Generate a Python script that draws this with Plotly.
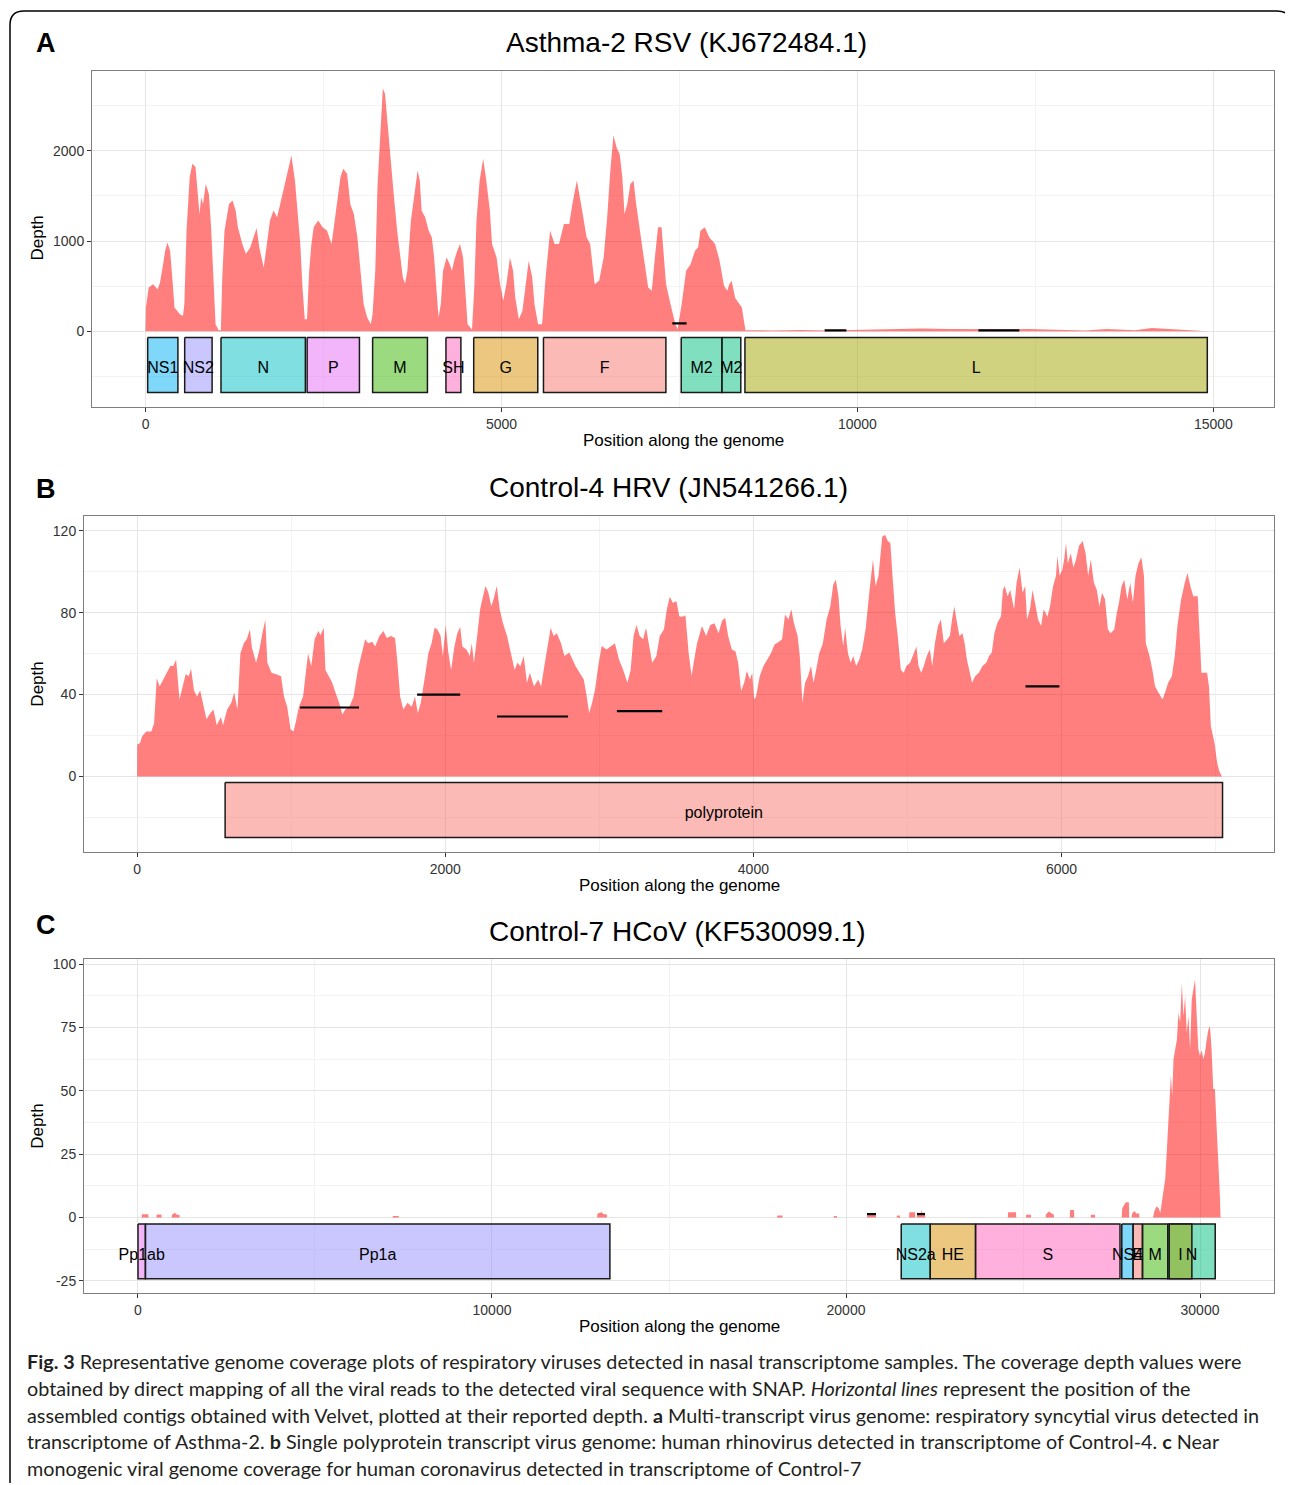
import plotly.graph_objects as go

# page offset of the plot div inside the browser page
OX, OY = 8, 10
W, H = 1293 - OX, 1485 - OY

# ---------------- DATA ----------------
# Panel A: RSV coverage (position, depth)
rsv_cov = [(0,0),(5,263),(44,485),(106,522),(169,467),(200,530),(232,670),(276,893),(307,985),(345,893),(376,596),(407,263),(482,189),(526,170),(545,300),(576,1115),(620,1707),(658,1855),(702,1820),(733,1485),(758,1300),(783,1485),(808,1411),(846,1633),(890,1520),(921,1152),(952,596),(984,78),(1027,11),(1058,11),(1078,596),(1109,1115),(1172,1411),(1222,1448),(1266,1337),(1297,1152),(1360,967),(1410,855),(1472,930),(1516,1040),(1560,1144),(1598,930),(1660,707),(1704,963),(1748,1226),(1798,1337),(1848,1263),(1892,1411),(1936,1560),(1986,1707),(2049,1948),(2099,1670),(2143,1300),(2174,967),(2205,485),(2237,133),(2268,133),(2299,670),(2330,967),(2362,1152),(2425,1226),(2488,1152),(2550,1115),(2613,967),(2676,1337),(2738,1707),(2776,1800),(2832,1744),(2876,1411),(2926,1300),(2976,1040),(3020,670),(3064,300),(3114,152),(3164,78),(3189,189),(3227,670),(3258,1596),(3302,2300),(3333,2689),(3364,2633),(3396,2337),(3440,1855),(3490,1485),(3540,1078),(3584,818),(3615,596),(3646,530),(3678,670),(3728,1226),(3772,1485),(3822,1781),(3853,1670),(3878,1337),(3928,1263),(3978,1115),(4022,1040),(4054,818),(4085,485),(4116,152),(4148,300),(4179,670),(4229,818),(4273,744),(4304,670),(4335,781),(4379,893),(4417,967),(4461,818),(4492,485),(4524,78),(4586,19),(4618,485),(4649,1226),(4693,1670),(4743,1911),(4787,1670),(4837,1337),(4868,967),(4931,818),(4981,522),(5025,337),(5069,522),(5119,818),(5163,670),(5194,374),(5244,133),(5294,226),(5338,522),(5382,781),(5432,596),(5464,300),(5514,78),(5570,78),(5620,596),(5683,1115),(5746,967),(5808,967),(5877,1189),(5952,1189),(5996,1411),(6059,1670),(6109,1448),(6153,1263),(6197,1040),(6246,967),(6309,522),(6372,559),(6435,818),(6485,1263),(6529,1781),(6573,2170),(6623,2022),(6660,1966),(6698,1707),(6729,1300),(6767,1411),(6811,1633),(6855,1670),(6892,1411),(6936,1152),(6999,818),(7061,485),(7111,448),(7155,818),(7199,1152),(7249,1152),(7280,818),(7312,522),(7375,300),(7437,96),(7474,22),(7500,150),(7531,300),(7594,670),(7656,744),(7719,893),(7763,930),(7794,1115),(7857,1152),(7920,1040),(8001,967),(8064,781),(8126,504),(8170,448),(8201,520),(8233,559),(8283,370),(8377,263),(8427,11),(8800,10),(9200,15),(9600,8),(9900,12),(10250,25),(10600,22),(10900,30),(11300,25),(11700,20),(12000,22),(12400,25),(12800,20),(13200,8),(13500,25),(13900,12),(14136,37),(14300,30),(14500,25),(14700,8),(14915,0)]
rsv_genes = ["NS1","NS2","N","P","M","SH","G","F","M2","M2","L"]
rsv_start = [30, 550, 1060, 2270, 3190, 4220, 4610, 5590, 7525, 8097, 8420]
rsv_end   = [455, 935, 2245, 3005, 3960, 4430, 5510, 7310, 8097, 8362, 14915]
rsv_contig_start = [7400, 9540, 11700]
rsv_contig_end   = [7600, 9845, 12275]
rsv_contig_depth = [87, 10, 10]

# Panel B: HRV coverage
hrv_cov = [(0,0),(1,15.6),(19,16.4),(32,19.7),(59,22),(92,22),(110,26),(127,48),(146,44),(167,47),(194,51),(215,54),(234,54),(253,57),(275,37.6),(296,44),(315,50),(334,49),(350,52.6),(369,42),(388,39),(409,42),(428,36),(450,28),(476,31),(495,32.7),(517,25),(544,29),(557,25),(584,32.7),(611,36),(630,41),(651,32.7),(670,60),(692,65),(711,67),(732,71.8),(745,63),(772,55.5),(791,61),(813,70),(832,76.7),(845,55.5),(872,50.7),(907,49.8),(934,49),(953,39),(974,34),(996,23),(1015,22),(1028,26),(1050,34),(1077,39),(1109,60),(1130,54),(1152,67),(1176,71),(1190,69),(1211,72.6),(1222,52),(1244,49),(1265,46),(1284,41.7),(1311,36),(1332,30.3),(1351,32.7),(1378,34),(1405,39),(1432,52),(1454,58.8),(1480,67),(1499,65),(1526,65.8),(1545,63.5),(1572,68.6),(1599,71),(1620,67.6),(1647,68.6),(1674,67.6),(1688,57),(1707,39),(1728,32.7),(1755,36),(1782,34),(1803,39),(1822,31),(1841,36),(1868,49),(1890,60),(1911,65),(1930,72.6),(1949,71.8),(1970,68.6),(1984,58.8),(2003,74),(2019,61),(2038,52),(2059,63.5),(2078,70),(2097,73),(2111,63.5),(2137,62),(2159,58.8),(2172,65),(2186,55.5),(2207,68.6),(2226,81.6),(2245,88),(2261,93),(2280,89.7),(2299,83),(2315,87),(2334,93),(2353,81.6),(2374,75),(2401,68.6),(2428,58.8),(2450,52),(2468,55.5),(2487,53.8),(2509,58.8),(2530,45.8),(2549,50.7),(2576,44),(2603,47.4),(2622,44),(2643,54),(2665,65),(2684,72.6),(2703,68.6),(2724,70),(2751,65),(2773,58.8),(2805,60.5),(2826,57),(2845,54),(2872,50.7),(2899,47.4),(2918,39),(2934,31),(2953,36),(2972,42.5),(2993,54),(3015,63.7),(3047,62),(3074,63.7),(3101,65),(3128,57),(3155,52),(3182,45.8),(3203,52),(3222,68.6),(3241,74),(3262,68.6),(3284,67),(3303,72.6),(3322,65),(3343,55.5),(3370,58.8),(3392,68.6),(3419,71.8),(3438,81.6),(3457,87.8),(3478,84.7),(3500,85.7),(3519,78.3),(3537,78),(3559,78.6),(3580,60),(3599,49),(3612,55.5),(3634,65),(3666,73.5),(3693,68.6),(3720,74),(3747,74.8),(3774,70),(3796,76),(3817,77.5),(3836,68.6),(3860,62),(3884,61),(3901,55.5),(3920,41.7),(3940,45.8),(3957,51.5),(3978,47.4),(3992,50.7),(4005,37.6),(4017,39),(4041,49),(4065,54),(4089,57),(4113,60),(4137,64.5),(4161,65.5),(4186,67),(4205,79),(4227,76.7),(4246,81.6),(4263,75),(4287,68.6),(4301,58.8),(4318,36),(4335,45.8),(4354,49),(4374,54),(4390,45.8),(4407,52),(4427,60),(4451,65),(4475,76.7),(4499,83),(4518,93.8),(4535,96),(4552,88),(4566,73.5),(4583,63.7),(4595,72.6),(4614,60),(4631,55.5),(4648,58.8),(4667,54),(4687,57),(4706,62),(4728,71.8),(4752,89.7),(4776,106),(4793,93),(4812,98),(4836,117),(4855,118),(4872,115),(4889,114),(4903,98),(4920,80),(4937,68.6),(4957,52),(4976,50.7),(4993,54),(5017,55.5),(5041,60),(5058,63.5),(5072,54),(5089,50.7),(5106,54),(5125,58.8),(5145,62),(5161,54),(5178,65),(5198,73.5),(5217,76.7),(5236,65),(5256,66.8),(5275,68.6),(5289,76.7),(5304,83),(5318,76.7),(5337,68.6),(5357,70),(5371,65),(5386,57),(5402,52),(5419,45.8),(5439,49),(5463,50.7),(5487,54),(5511,55.5),(5530,58.8),(5547,60.5),(5564,70),(5583,75),(5607,78.3),(5619,91),(5631,93),(5650,88),(5667,91),(5692,81.6),(5708,94.6),(5728,102),(5747,89.7),(5764,93),(5776,76.7),(5795,81.6),(5812,91),(5829,84.7),(5848,76.7),(5867,73.5),(5884,81.6),(5908,78),(5925,83),(5945,93),(5964,98),(5973,107.7),(5988,98),(6005,101),(6017,106),(6029,114),(6041,104),(6060,109),(6077,102),(6094,106),(6113,112.5),(6137,115),(6156,109),(6173,98),(6190,106),(6210,94.6),(6229,91),(6246,83),(6263,89.7),(6282,86.5),(6301,71.8),(6318,70),(6342,71.8),(6359,80),(6373,85),(6390,93),(6407,96),(6427,86.5),(6446,94.6),(6463,85),(6480,98),(6499,104),(6518,107),(6535,98),(6547,65),(6571,58.8),(6590,52),(6607,44),(6631,41),(6655,37.6),(6672,41),(6692,45.8),(6716,49),(6735,58.8),(6752,73.5),(6776,86.5),(6800,94.6),(6817,99.5),(6836,93),(6855,88),(6884,88),(6896,65),(6908,50.7),(6945,50.7),(6957,44),(6969,24.6),(6993,16.4),(7010,6.7),(7024,2.6),(7041,0)]
hrv_genes = ["polyprotein"]
hrv_start = [571]
hrv_end = [7045]
hrv_contig_start = [1058, 1817, 2336, 3114, 5766]
hrv_contig_end   = [1440, 2097, 2797, 3408, 5986]
hrv_contig_depth = [33.7, 40, 29.3, 31.9, 44]

# Panel C: HCoV coverage
hcov_cov = [(0,0),(100,0),(110,1.2),(290,1.2),(300,0),(520,0),(530,1.1),(660,1.1),(670,0),(950,0),(960,1),(1040,1.8),(1100,1),(1170,1),(1180,0),(7190,0),(7200,0.6),(7360,0.6),(7370,0),(12970,0),(12980,1.5),(13100,2),(13150,1.2),(13240,1.2),(13250,0),(18050,0),(18060,0.8),(18200,0.8),(18210,0),(19650,0),(19660,0.6),(19740,0.6),(19750,0),(20590,0),(20600,1.3),(20840,1.3),(20850,0),(21430,0),(21440,0.8),(21520,0.8),(21530,0),(21780,0),(21790,2),(21950,2),(21960,0),(22000,0),(22010,1.8),(22120,1.8),(22130,3),(22150,1.8),(22230,1.8),(22240,0),(24570,0),(24580,2),(24800,2),(24810,0),(25080,0),(25090,1),(25220,1),(25230,0),(25640,0),(25650,1.2),(25730,2.3),(25800,1.8),(25870,1),(25880,0),(26320,0),(26330,2.9),(26440,2.9),(26450,0),(26910,0),(26920,1),(27030,1),(27040,0),(27790,0),(27800,3.5),(27870,5),(27900,6),(27990,6),(28000,0),(28070,0),(28080,1.5),(28150,2.5),(28200,1.5),(28280,1.5),(28290,0),(28672,0),(28710,2.4),(28766,4.3),(28831,3.7),(28878,1.7),(28925,6.3),(28971,10.2),(29018,15.4),(29065,27),(29112,40),(29140,46.8),(29177,56),(29215,48),(29252,62.5),(29299,66.4),(29346,70),(29392,80.8),(29439,77),(29486,92.5),(29533,79.5),(29579,87.3),(29626,73),(29673,79.5),(29720,66.4),(29766,86),(29813,91),(29860,94),(29907,79.5),(29953,66.4),(30000,63.8),(30047,66),(30094,62.5),(30140,65),(30187,70),(30234,74),(30281,75.5),(30327,66.4),(30374,50.7),(30421,50.7),(30468,36),(30514,24.6),(30561,8.9),(30580,0)]
hcov_genes = ["Pp1ab","Pp1a","NS2a","HE","S","NS4","E","M","N","I"]
hcov_start = [0, 210, 21560, 22380, 23660, 27790, 28110, 28380, 29090, 29130]
hcov_end   = [210, 13330, 22380, 23660, 27740, 28110, 28370, 29090, 30430, 29770]
hcov_contig_start = [20593, 22006]
hcov_contig_end   = [20847, 22232]
hcov_contig_depth = [1.3, 1.3]

# ggplot hue palette (alpha 0.5) by gene name
rsv_palette = {"F":"#F8766D","G":"#D89000","L":"#A3A500","M":"#39B600","M2":"#00BF7D",
               "N":"#00BFC4","NS1":"#00B0F6","NS2":"#9590FF","P":"#E76BF3","SH":"#FF62BC"}
hrv_palette = {"polyprotein":"#F8766D"}
hcov_palette = {"E":"#F8766D","HE":"#D89000","I":"#A3A500","M":"#39B600","N":"#00BF7D",
                "NS2a":"#00BFC4","NS4":"#00B0F6","Pp1a":"#9590FF","Pp1ab":"#E76BF3","S":"#FF62BC"}

panels = [
    dict(cov=rsv_cov, genes=rsv_genes, start=rsv_start, end=rsv_end, pal=rsv_palette,
         cs=rsv_contig_start, ce=rsv_contig_end, cd=rsv_contig_depth,
         box=(-68, -678), xr=[-752, 15852], yr=[-841, 2885],
         xt=[0, 5000, 10000, 15000], yt=[0, 1000, 2000], xm=2500, ym=500,
         dom_x=(92, 1274), dom_y=(70, 407),
         title="Asthma-2 RSV (KJ672484.1)", title_xy=(686, 42), letter="A", letter_y=42,
         xlab_y=440, ylab_y=238),
    dict(cov=hrv_cov, genes=hrv_genes, start=hrv_start, end=hrv_end, pal=hrv_palette,
         cs=hrv_contig_start, ce=hrv_contig_end, cd=hrv_contig_depth,
         box=(-2.9, -29.8), xr=[-345, 7379], yr=[-37, 127.2],
         xt=[0, 2000, 4000, 6000], yt=[0, 40, 80, 120], xm=1000, ym=20,
         dom_x=(84, 1274), dom_y=(516, 853),
         title="Control-4 HRV (JN541266.1)", title_xy=(669, 487), letter="B", letter_y=489,
         xlab_y=886, ylab_y=685),
    dict(cov=hcov_cov, genes=hcov_genes, start=hcov_start, end=hcov_end, pal=hcov_palette,
         cs=hcov_contig_start, ce=hcov_contig_end, cd=hcov_contig_depth,
         box=(-2.6, -24.2), xr=[-1525, 32090], yr=[-30, 102],
         xt=[0, 10000, 20000, 30000], yt=[-25, 0, 25, 50, 75, 100], xm=5000, ym=12.5,
         dom_x=(84, 1274), dom_y=(960, 1295),
         title="Control-7 HCoV (KF530099.1)", title_xy=(677, 932), letter="C", letter_y=926,
         xlab_y=1328, ylab_y=1128),
]

caption_lines = [
    "<b>Fig. 3</b> Representative genome coverage plots of respiratory viruses detected in nasal transcriptome samples. The coverage depth values were",
    "obtained by direct mapping of all the viral reads to the detected viral sequence with SNAP. <i>Horizontal lines</i> represent the position of the",
    "assembled contigs obtained with Velvet, plotted at their reported depth. <b>a</b> Multi-transcript virus genome: respiratory syncytial virus detected in",
    "transcriptome of Asthma-2. <b>b</b> Single polyprotein transcript virus genome: human rhinovirus detected in transcriptome of Control-4. <b>c</b> Near",
    "monogenic viral genome coverage for human coronavirus detected in transcriptome of Control-7",
]
caption_y = [1363, 1390, 1417, 1443, 1470]

# ---------------- FIGURE ----------------
def hexa(h, a=0.5):
    h = h.lstrip("#")
    return "rgba(%d,%d,%d,%s)" % (int(h[0:2], 16), int(h[2:4], 16), int(h[4:6], 16), a)

def pxx(x): return (x - OX) / W
def pyy(y): return 1 - (y - OY) / H

FONT = "Liberation Sans, Arial, Helvetica, sans-serif"
fig = go.Figure()
layout = dict(width=W, height=H, margin=dict(l=0, r=0, t=0, b=0),
              paper_bgcolor="white", plot_bgcolor="white", showlegend=False,
              font=dict(family=FONT, color="#222"))
annotations = []

for i, p in enumerate(panels):
    sfx = "" if i == 0 else str(i + 1)
    xa, ya = "x" + sfx, "y" + sfx
    # coverage area
    fig.add_trace(go.Scatter(x=[c[0] for c in p["cov"]], y=[c[1] for c in p["cov"]],
                             mode="lines", fill="tozeroy", fillcolor="rgba(255,0,0,0.5)",
                             line=dict(width=0, color="rgba(255,0,0,0)"),
                             xaxis=xa, yaxis=ya, hoverinfo="skip"))
    # gene boxes
    top, bot = p["box"]
    for g, s, e in zip(p["genes"], p["start"], p["end"]):
        fig.add_trace(go.Scatter(x=[s, e, e, s, s], y=[top, top, bot, bot, top],
                                 mode="lines", fill="toself", fillcolor=hexa(p["pal"][g]),
                                 line=dict(color="#1a1a1a", width=1.5),
                                 xaxis=xa, yaxis=ya, hoverinfo="skip"))
    # contigs
    cx, cy = [], []
    for s, e, d in zip(p["cs"], p["ce"], p["cd"]):
        cx += [s, e, None]
        cy += [d, d, None]
    fig.add_trace(go.Scatter(x=cx, y=cy, mode="lines", line=dict(color="black", width=2.2),
                             xaxis=xa, yaxis=ya, hoverinfo="skip"))
    # labels (slightly below the box centre, as in the reference)
    label_y = (top + bot) / 2 - 0.08 * (top - bot)
    fig.add_trace(go.Scatter(x=[(s + e) / 2 for s, e in zip(p["start"], p["end"])],
                             y=[label_y] * len(p["genes"]),
                             mode="text", text=p["genes"],
                             textfont=dict(family=FONT, size=16, color="black"),
                             xaxis=xa, yaxis=ya, hoverinfo="skip"))
    common = dict(showline=True, mirror=True, linecolor="#7f7f7f", linewidth=1,
                  ticks="outside", ticklen=4, tickwidth=1.3, tickcolor="#333",
                  showgrid=True, gridcolor="#e5e5e5", gridwidth=1, zeroline=False,
                  tickfont=dict(family=FONT, size=14, color="#333"))
    layout["xaxis" + sfx] = dict(common, domain=[pxx(p["dom_x"][0]), pxx(p["dom_x"][1])],
                                 range=p["xr"], tickvals=p["xt"],
                                 ticktext=[str(v) for v in p["xt"]], anchor=ya,
                                 minor=dict(dtick=p["xm"], tick0=0, showgrid=True,
                                            gridcolor="#f3f3f3", gridwidth=0.8))
    layout["yaxis" + sfx] = dict(common, domain=[pyy(p["dom_y"][1]), pyy(p["dom_y"][0])],
                                 range=p["yr"], tickvals=p["yt"],
                                 ticktext=[str(v) for v in p["yt"]], anchor=xa,
                                 minor=dict(dtick=p["ym"], tick0=0, showgrid=True,
                                            gridcolor="#f3f3f3", gridwidth=0.8))
    annotations.append(dict(text=p["title"], x=pxx(p["title_xy"][0]), y=pyy(p["title_xy"][1]),
                            xref="paper", yref="paper", showarrow=False, xanchor="center",
                            yanchor="middle", font=dict(family=FONT, size=28, color="black")))
    annotations.append(dict(text="<b>" + p["letter"] + "</b>", x=pxx(46), y=pyy(p["letter_y"]),
                            xref="paper", yref="paper", showarrow=False, xanchor="center",
                            yanchor="middle", font=dict(family=FONT, size=27, color="black")))
    annotations.append(dict(text="Position along the genome", x=pxx((p["dom_x"][0] + p["dom_x"][1]) / 2),
                            y=pyy(p["xlab_y"]), xref="paper", yref="paper", showarrow=False,
                            xanchor="center", yanchor="middle",
                            font=dict(family=FONT, size=17, color="black")))
    annotations.append(dict(text="Depth", x=pxx(38), y=pyy(p["ylab_y"]), textangle=-90,
                            xref="paper", yref="paper", showarrow=False,
                            xanchor="center", yanchor="middle",
                            font=dict(family=FONT, size=17, color="black")))

for t, y in zip(caption_lines, caption_y):
    annotations.append(dict(text=t, x=pxx(25), y=pyy(y), xref="paper", yref="paper",
                            showarrow=False, xanchor="left", yanchor="middle",
                            font=dict(family="Lato, Open Sans, sans-serif", size=19.8, color="#231f20")))

layout["annotations"] = annotations

# outer rounded frame
r = 14
x0, x1, y0, y1 = 10, 1291, 10, 1500
path = ("M {a},{b} L {a},{c} Q {a},{d} {e},{d} L {f},{d} Q {g},{d} {g},{c} L {g},{b}").format(
    a=pxx(x0), b=pyy(y1), c=pyy(y0 + r), d=pyy(y0), e=pxx(x0 + r), f=pxx(x1 - r), g=pxx(x1))
layout["shapes"] = [dict(type="path", path=path, xref="paper", yref="paper",
                         line=dict(color="black", width=1.5), layer="above")]

fig.update_layout(**layout)
fig.write_html("out.html")
